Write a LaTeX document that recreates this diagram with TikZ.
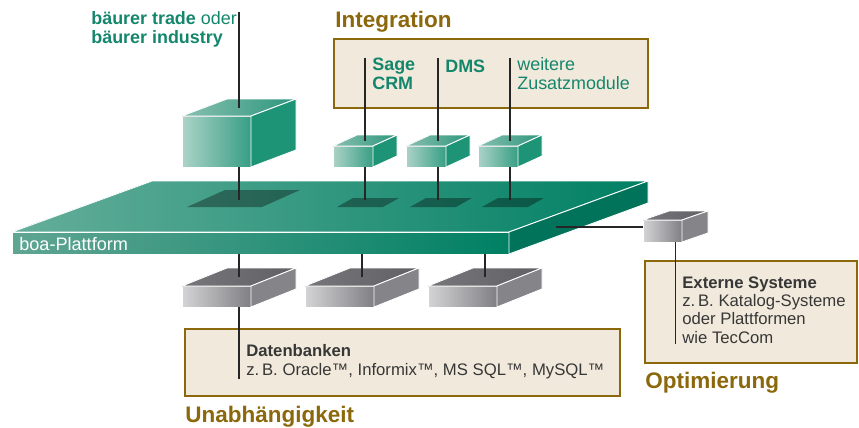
\documentclass[tikz,border=0pt]{standalone}
\usepackage{fontspec}
\setmainfont{Liberation Sans}
\definecolor{boagruen}{RGB}{20,134,108}
\definecolor{boabraun}{RGB}{140,104,12}
\definecolor{boabeige}{RGB}{241,234,220}
\definecolor{textgrau}{RGB}{55,55,55}
\definecolor{platthell}{RGB}{100,174,154}
\definecolor{plattdunkel}{RGB}{0,128,100}
\tikzset{
  pics/quader/.style n args={5}{code={
    \filldraw[draw=white, line width=.5pt, #5 vorn] (0,0) rectangle (#1,#2);
    \filldraw[draw=white, line width=.5pt, #5 oben] (0,0) -- (#1,0) -- ++(#3,-#4) -- (#3,-#4) -- cycle;
    \filldraw[draw=white, line width=.5pt, #5 seite] (#1,0) -- ++(#3,-#4) -- ++(0,#2) -- (#1,#2) -- cycle;
    \coordinate (-oben) at ({(#1+#3)/2},-#4/2);
    \coordinate (-unten) at ({(#1+#3)/2},#2);
    \coordinate (-links) at (0,#2/2);
  }},
  gruen vorn/.style={left color={rgb,255:red,172;green,211;blue,199}, right color={rgb,255:red,55;green,158;blue,132}},
  gruen oben/.style={left color={rgb,255:red,135;green,192;blue,175}, right color={rgb,255:red,45;green,150;blue,125}},
  gruen seite/.style={fill={rgb,255:red,30;green,148;blue,118}},
  grau vorn/.style={left color={rgb,255:red,212;green,212;blue,214}, right color={rgb,255:red,128;green,128;blue,132}},
  grau oben/.style={left color={rgb,255:red,118;green,118;blue,123}, right color={rgb,255:red,96;green,96;blue,101}},
  grau seite/.style={fill={rgb,255:red,132;green,132;blue,137}}
}
\begin{document}
\begin{tikzpicture}[x=.02cm,y=-.02cm,
    linie/.style={draw=black!85,line width=.6pt},
    panel/.style={draw=boabraun,fill=boabeige,line width=1.1pt},
    schatten/.style={fill=black,fill opacity=.35},
    kopf/.style={anchor=base west,inner sep=0pt,text=boabraun,font=\fontsize{12.8}{14}\selectfont\bfseries},
    gtext/.style={anchor=base west,inner sep=0pt,align=left,text=boagruen,font=\fontsize{10.2}{10.3}\selectfont},
    btext/.style={anchor=base west,inner sep=0pt,align=left,text=textgrau,font=\fontsize{9.5}{10.3}\selectfont}]
\useasboundingbox (0,0) rectangle (859,427);
% Kaesten
\draw[panel] (334,39) rectangle (648,108);
\draw[panel] (185,329) rectangle (620,396);
\draw[panel] (645,261) rectangle (857,363);
% Plattform
\filldraw[draw=white,line width=.5pt,left color=platthell,right color=plattdunkel] (12,232) -- (152,181) -- (648,181) -- (509,232) -- cycle;
\filldraw[draw=white,line width=.5pt,left color=platthell!95!black,right color=plattdunkel] (12,232) rectangle (509,254);
\filldraw[draw=white,line width=.5pt,fill=plattdunkel!90!black] (509,232) -- (648,181) -- (648,203) -- (509,254) -- cycle;
\coordinate (schatten) at (0,200);
\coordinate (plattvorn) at (0,254);
\coordinate (anschluss) at (556,227);
\fill[schatten] (187,207) -- (262,207) -- (300,190) -- (225,190) -- cycle;
\foreach \x in {337,410,482}
  \fill[schatten] (\x,207) -- ++(46,0) -- ++(16,-9) -- ++(-46,0) -- cycle;
% Quader
\pic (bq) at (182,116) {quader={69}{51}{45}{17}{gruen}};
\foreach \n/\x in {sage/333,dms/406,weitere/478}
  \pic (\n) at (\x,146) {quader={40}{21}{24}{11}{gruen}};
\foreach \n/\x in {db1/182,db2/305,db3/428}
  \pic (\n) at (\x,286) {quader={69}{21}{45}{18}{grau}};
\pic (ext) at (643,220) {quader={39}{22}{26}{9}{grau}};
% Texte
\node[gtext] (trade) at (91,43) {\textbf{bäurer trade} oder\\\textbf{bäurer industry}};
\node[kopf] (integration) at (335,27) {Integration};
\node[gtext,font=\fontsize{10.2}{10.3}\selectfont\bfseries] (tsage) at (372,89) {Sage\\CRM};
\node[gtext,font=\fontsize{10.2}{10.3}\selectfont\bfseries] (tdms) at (445,72) {DMS};
\node[gtext] (tweitere) at (517,89) {weitere\\Zusatzmodule};
\node[btext,text=white,font=\fontsize{10.3}{11}\selectfont] (tplatt) at (19,250) {boa-Plattform};
\node[btext] (tdb) at (246,375) {\textbf{Datenbanken}\\z.\,B. Oracle™, Informix™, MS SQL™, MySQL™};
\node[kopf] (unabh) at (185,422) {Unabhängigkeit};
\node[btext] (text) at (682,343) {\textbf{Externe Systeme}\\z.\,B. Katalog-Systeme\\oder Plattformen\\wie TecCom};
\node[kopf] (optim) at (645,388) {Optimierung};
% Linien
\draw[linie] (bq-oben) -- (bq-oben |- trade.north);
\foreach \n in {sage,dms,weitere}
  \draw[linie] (\n-oben) -- (\n-oben |- tsage.north);
\foreach \n in {bq,sage,dms,weitere}
  \draw[linie] (\n-unten) -- (\n-unten |- schatten);
\foreach \n in {db1,db2,db3}
  \draw[linie] (\n-oben) -- (\n-oben |- plattvorn);
\draw[linie] (db1-unten) -- (db1-unten |- tdb.south);
\draw[linie] (anschluss) -- (anschluss -| ext-links);
\draw[linie] (ext-unten) -- (ext-unten |- text.south);
\end{tikzpicture}
\end{document}
